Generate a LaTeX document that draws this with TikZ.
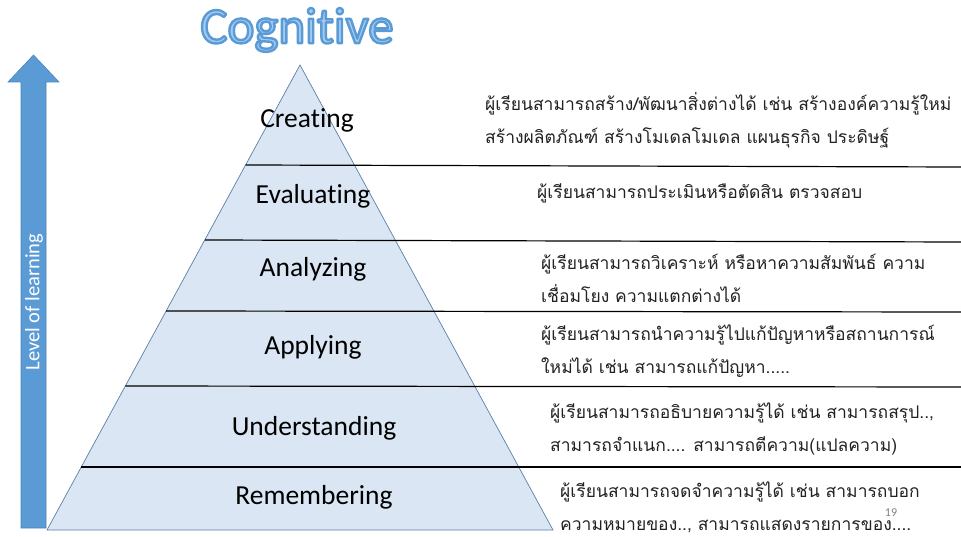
\documentclass[tikz,border=0pt]{standalone}
\usepackage{fontspec}
\setmainfont{Carlito}[Ligatures={NoCommon,NoContextual}]
\newfontfamily\thaifont[Script=Thai]{Loma}
\newfontfamily\titlefont{Carlito}[Ligatures={NoCommon,NoContextual}]
\definecolor{pyrfill}{HTML}{DAE6F3}
\definecolor{pyredge}{HTML}{5B7FA8}
\definecolor{arrowblue}{HTML}{5B9BD5}
\definecolor{arrowedge}{HTML}{4A84BA}
\definecolor{titlefill}{HTML}{A3CBF2}
\definecolor{thaigray}{HTML}{222222}
\newcommand{\outlinedtext}[1]{\special{pdf:code 2 Tr 2.4 w 0.357 0.608 0.835 RG 1 j}#1\special{pdf:code 0 Tr}}
\tikzset{
  level/.style={font=\fontsize{27.5}{32}\selectfont, text=black, inner sep=0pt},
  desc/.style={font=\thaifont\fontsize{17.5}{33}\selectfont, text=thaigray, align=left, anchor=west, inner sep=0pt},
  sepline/.style={draw=black, line width=1.2pt},
  titletext/.style={font=\titlefont\fontsize{51}{56}\selectfont, inner sep=0pt},
}
\begin{document}
\begin{tikzpicture}[x=1pt,y=-1pt]
\useasboundingbox (0,0) rectangle (961,537);
\fill[white] (0,0) rectangle (961,537);

% title
\node[titletext, text=titlefill] (title) at (297,30) {\outlinedtext{Cognitive}};

% arrow
\path[fill=arrowblue, draw=arrowedge, line width=0.6pt]
  (21,528) -- (46,528) -- (46,82) -- (59,82) -- (33.5,55) -- (8,82) -- (21,82) -- cycle;
\node[rotate=90, font=\fontsize{20.5}{24}\selectfont, text=white, inner sep=0pt] (lvl) at (34,302) {Level of learning};

% pyramid
\coordinate (apex) at (300,65);
\coordinate (bl) at (47,530);
\coordinate (br) at (553,530);
\path[fill=pyrfill, draw=pyredge, line width=0.7pt] (apex) -- (br) -- (bl) -- cycle;

% separator lines
\coordinate (l1) at (245.6,165); \coordinate (r1) at (961,167);
\coordinate (l2) at (204.8,240); \coordinate (r2) at (961,242);
\coordinate (l3) at (166.1,311); \coordinate (r3) at (961,312);
\coordinate (l4) at (125.3,386); \coordinate (r4) at (961,387);
\coordinate (l5) at (81.3,467);  \coordinate (r5) at (961,467);
\foreach \i in {1,...,5}{ \draw[sepline] (l\i) -- (r\i); }

% level labels
\node[level] (cre) at (307,120) {Creating};
\node[level] (eva) at (313,196) {Evaluating};
\node[level] (ana) at (313,269) {Analyzing};
\node[level] (app) at (313,347) {Applying};
\node[level] (und) at (314,428) {Understanding};
\node[level] (rem) at (314,497) {Remembering};

% descriptions
\node[desc] (dcre) at (485,120) {ผู้เรียนสามารถสร้าง/พัฒนาสิ่งต่างได้ เช่น สร้างองค์ความรู้ใหม่\\สร้างผลิตภัณฑ์ สร้างโมเดลโมเดล แผนธุรกิจ ประดิษฐ์};
\node[desc] (deva) at (537,193) {ผู้เรียนสามารถประเมินหรือตัดสิน ตรวจสอบ};
\node[desc] (dana) at (541,278) {ผู้เรียนสามารถวิเคราะห์ หรือหาความสัมพันธ์ ความ\\เชื่อมโยง ความแตกต่างได้};
\node[desc] (dapp) at (541,351) {ผู้เรียนสามารถนำความรู้ไปแก้ปัญหาหรือสถานการณ์\\ใหม่ได้ เช่น สามารถแก้ปัญหา.....};
\node[desc] (dund) at (550,429) {ผู้เรียนสามารถอธิบายความรู้ได้ เช่น สามารถสรุป..,\\สามารถจำแนก.... สามารถตีความ(แปลความ)};
\node[desc] (drem) at (560,507) {ผู้เรียนสามารถจดจำความรู้ได้ เช่น สามารถบอก\\ความหมายของ.., สามารถแสดงรายการของ....};

\node[font=\fontsize{12}{14}\selectfont, text=gray] (pg) at (891,513) {19};
\end{tikzpicture}
\end{document}
